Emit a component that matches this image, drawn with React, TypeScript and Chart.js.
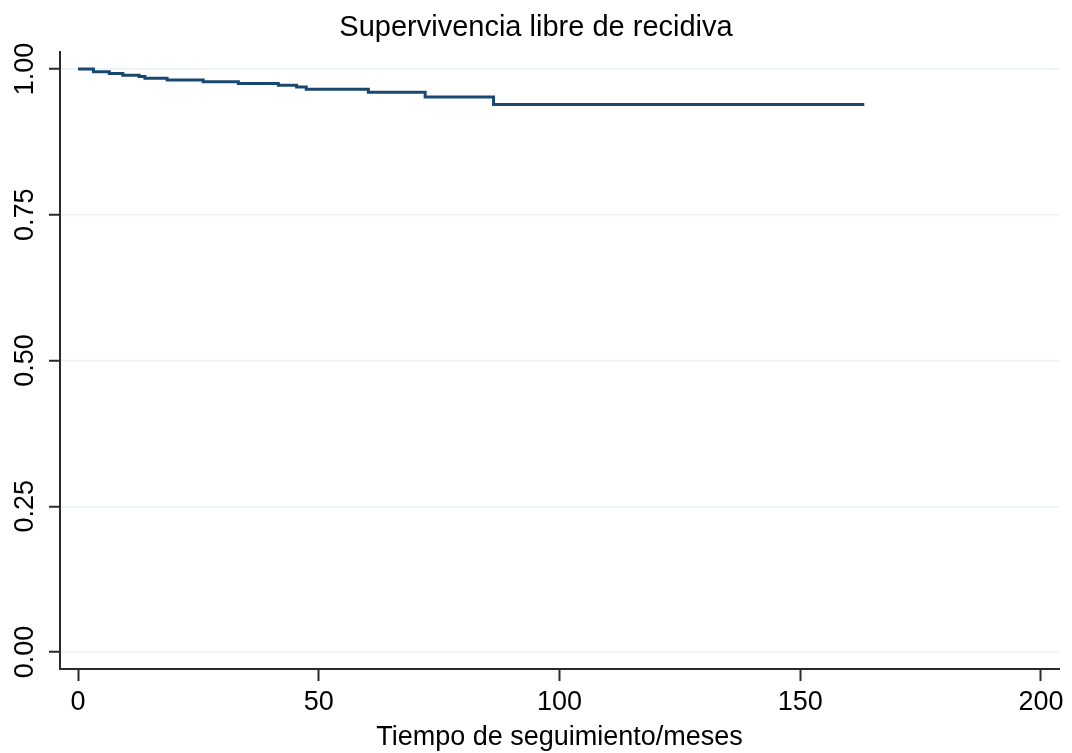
import { useEffect, useRef } from "react";
import { Chart, registerables } from "chart.js";

Chart.register(...registerables);

// Kaplan-Meier estimate: event times (months) and survival after each event
const months = [0, 3.2, 6.5, 9.3, 12.7, 13.9, 18.5, 26.0, 33.3, 41.6, 45.4, 47.4, 60.3, 72.1, 86.3, 163.3];
const survival = [1.0, 0.995, 0.992, 0.989, 0.987, 0.984, 0.981, 0.978, 0.975, 0.972, 0.969, 0.965, 0.96, 0.952, 0.939, 0.939];

const xTicks = [0, 50, 100, 150, 200];
const yTicks = [0, 0.25, 0.5, 0.75, 1];

const chartTitle = "Supervivencia libre de recidiva";
const xTitle = "Tiempo de seguimiento/meses";

const FONT = "'Liberation Sans', Arial, Helvetica, sans-serif";
const AXIS = "#2a2a2a";
const GRID = "#eaf2f3";
const NAVY = "#1a476f";

export default function App() {
  const canvasRef = useRef<HTMLCanvasElement | null>(null);

  useEffect(() => {
    const canvas = canvasRef.current;
    if (!canvas) return;

    const chart = new Chart(canvas, {
      type: "line",
      data: {
        datasets: [
          {
            data: months.map((t, i) => ({ x: t, y: survival[i] })),
            borderColor: NAVY,
            borderWidth: 3,
            borderCapStyle: "butt",
            borderJoinStyle: "miter",
            stepped: true,
            fill: false,
            pointRadius: 0,
            pointHoverRadius: 0,
          },
        ],
      },
      options: {
        animation: false,
        responsive: false,
        maintainAspectRatio: false,
        layout: { padding: 0 },
        plugins: {
          legend: { display: false },
          tooltip: { enabled: false },
          title: {
            display: true,
            text: chartTitle,
            color: "#000",
            font: { family: FONT, size: 29, weight: "normal" },
            padding: { top: 11, bottom: 6.2 },
          },
        },
        scales: {
          x: {
            type: "linear",
            min: -3.74,
            max: 203.74,
            afterBuildTicks: (s: any) => {
              s.ticks = xTicks.map((v) => ({ value: v }));
            },
            afterFit: (s: any) => {
              s.height = 84;
              s.paddingLeft = 0;
              s.paddingRight = 13;
            },
            grid: {
              drawOnChartArea: false,
              drawTicks: true,
              tickLength: 12,
              tickColor: AXIS,
              tickWidth: 2,
            },
            border: { display: true, color: AXIS, width: 2 },
            ticks: {
              color: "#000",
              font: { family: FONT, size: 27 },
              padding: 5,
              maxRotation: 0,
              autoSkip: false,
              callback: (v: any) => String(v),
            },
            title: {
              display: true,
              text: xTitle,
              color: "#000",
              font: { family: FONT, size: 27 },
              padding: { top: 0, bottom: -1 },
            },
          },
          y: {
            type: "linear",
            min: -0.029,
            max: 1.029,
            afterBuildTicks: (s: any) => {
              s.ticks = yTicks.map((v) => ({ value: v }));
            },
            afterFit: (s: any) => {
              s.width = 60;
              s.paddingTop = 0;
              s.paddingBottom = 0;
            },
            grid: {
              color: GRID,
              lineWidth: 1.5,
              drawTicks: true,
              tickLength: 11,
              tickColor: AXIS,
              tickWidth: 2,
            },
            border: { display: true, color: AXIS, width: 2 },
            ticks: {
              color: "#000",
              font: { family: FONT, size: 27 },
              padding: -3,
              minRotation: 90,
              maxRotation: 90,
              crossAlign: "center",
              autoSkip: false,
              callback: (v: any) => Number(v).toFixed(2),
            },
          },
        },
      },
    } as any);

    return () => chart.destroy();
  }, []);

  return (
    <div
      style={{
        position: "fixed",
        left: 0,
        top: 0,
        width: 1072,
        height: 753,
        background: "#fff",
      }}
    >
      <canvas ref={canvasRef} width={1072} height={753} style={{ display: "block" }} />
    </div>
  );
}
